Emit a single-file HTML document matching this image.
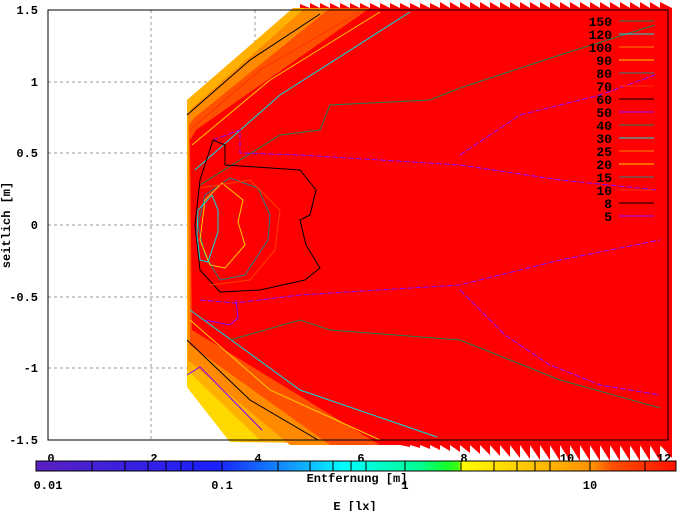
<!DOCTYPE html>
<html><head><meta charset="utf-8"><style>
body{margin:0;background:#fff;}
svg{display:block;font-family:"Liberation Mono",monospace;}
</style></head><body>
<svg width="677" height="511" viewBox="0 0 677 511" xmlns="http://www.w3.org/2000/svg">
<defs>
<linearGradient id="cb" x1="0" x2="1" y1="0" y2="0">
<stop offset="0" stop-color="#5a20c0"/>
<stop offset="0.28" stop-color="#1a20ff"/>
<stop offset="0.42" stop-color="#10b0ff"/>
<stop offset="0.48" stop-color="#00ffff"/>
<stop offset="0.6" stop-color="#00ff90"/>
<stop offset="0.64" stop-color="#10ff30"/>
<stop offset="0.66" stop-color="#40ff10"/>
<stop offset="0.665" stop-color="#ffff00"/>
<stop offset="0.78" stop-color="#ffc000"/>
<stop offset="0.87" stop-color="#ff9000"/>
<stop offset="0.9" stop-color="#ff5000"/>
<stop offset="1" stop-color="#ff1000"/>
</linearGradient>
</defs>
<g stroke="#999" stroke-dasharray="3,3" stroke-width="1">
<line x1="151" y1="10" x2="151" y2="440"/><line x1="255" y1="10" x2="255" y2="440"/>
<line x1="358" y1="10" x2="358" y2="440"/><line x1="461" y1="10" x2="461" y2="440"/>
<line x1="564" y1="10" x2="564" y2="440"/>
<line x1="48" y1="82" x2="668" y2="82"/><line x1="48" y1="153" x2="668" y2="153"/>
<line x1="48" y1="225" x2="668" y2="225"/><line x1="48" y1="297" x2="668" y2="297"/>
<line x1="48" y1="368" x2="668" y2="368"/>
</g>
<polygon points="187,100 293,8 672,8 672,447 230,442 187,387" fill="#ffb000"/>
<polygon points="230,442 187,387 187,370 260,440" fill="#ffd800"/>
<polygon points="192,108 305,8 672,8 672,445 290,445 188,360 188,115" fill="#ff8a00"/>
<polygon points="194,118 330,8 672,8 672,445 330,445 190,345 189,125" fill="#ff5000"/>
<polygon points="196,130 370,8 672,8 672,445 380,445 192,330 190,140" fill="#ff0000"/>
<g fill="#ff0000">
<path d="M300,8 L300,4 L310,8 L310,3 L320,8 L320,3 L330,8 L330,3 L340,8 L340,3 L350,8 L350,3 L360,8 L360,3 L370,8 L370,3 L380,8 L380,3 L390,8 L390,3 L400,8 L400,3 L410,8 L410,3 L420,8 L420,3 L430,8 L430,3 L440,8 L440,2 L450,8 L450,2 L460,8 L460,2 L470,8 L470,2 L480,8 L480,2 L490,8 L490,2 L500,8 L500,2 L510,8 L510,2 L520,8 L520,2 L530,8 L530,2 L540,8 L540,2 L550,8 L550,2 L560,8 L560,2 L570,8 L570,2 L580,8 L580,2 L590,8 L590,2 L600,8 L600,2 L610,8 L610,2 L620,8 L620,2 L630,8 L630,2 L640,8 L640,2 L650,8 L650,2 L660,8 L660,2 L672,8 Z"/>
<path d="M400,445 L410,447 L410,445 L420,448 L420,445 L430,449 L430,445 L440,450 L440,445 L450,451 L450,445 L460,452 L460,445 L470,453 L470,445 L480,454 L480,445 L490,455 L490,445 L500,456 L500,445 L510,457 L510,445 L520,458 L520,445 L530,459 L530,445 L540,460 L540,445 L550,460 L550,445 L560,461 L560,445 L570,461 L570,445 L580,461 L580,445 L590,461 L590,445 L600,461 L600,445 L610,461 L610,445 L620,461 L620,445 L630,461 L630,445 L640,461 L640,445 L650,461 L650,445 L660,461 L660,445 L672,458 L672,445 Z"/>
</g>
<g fill="none" stroke-width="1">
<polyline points="187,115 250,60 320,14" stroke="#000"/>
<polyline points="190,130 260,70 360,12" stroke="#ff3000"/>
<polyline points="192,145 270,80 380,12" stroke="#ffcc00"/>
<polyline points="195,170 280,95 410,12" stroke="#00e0e0"/>
<polyline points="187,340 250,400 318,440" stroke="#000"/>
<polyline points="190,320 270,390 380,440" stroke="#ffcc00"/>
<polyline points="190,310 300,390 437,437" stroke="#00e0e0"/>
<polyline points="187,375 200,367 262,430" stroke="#8000ff"/>
<polyline points="200,185 280,135 320,130 330,105 430,100 460,88 560,55 655,25" stroke="#208050"/>
<polyline points="230,340 300,320 330,330 460,340 560,380 660,408" stroke="#208050"/>
<polyline points="213,140 240,130 240,153 300,155 460,165 560,180 658,190" stroke="#8000ff" stroke-dasharray="6,2"/>
<polyline points="200,300 235,303 300,295 460,285 560,260 660,240" stroke="#8000ff" stroke-dasharray="6,2"/>
<polyline points="205,320 230,325 238,318 236,300" stroke="#8000ff"/>
<polyline points="460,155 520,115 600,95 655,75" stroke="#8000ff" stroke-dasharray="6,2"/>
<polyline points="460,290 505,335 550,365 600,385 660,395" stroke="#8000ff" stroke-dasharray="6,2"/>
<polyline points="213,140 225,145 225,165 300,170 316,190 310,215 300,220 306,245 320,268 305,280 260,290 220,292 200,270 195,225 200,180 213,140" stroke="#000"/>
<polyline points="205,195 230,178 258,188 270,215 268,240 245,275 220,280 205,255 198,225 205,195" stroke="#208080"/>
<polyline points="205,200 222,183 243,200 238,222 245,245 225,268 210,265 200,240 205,200" stroke="#ffcc00"/>
<polyline points="198,210 212,195 218,210 218,232 208,262 200,260 197,235 198,210" stroke="#00e0e0"/>
<polyline points="200,188 250,180 280,210 275,250 250,280 210,285" stroke="#ff4000"/>
</g>
<rect x="48" y="10" width="620" height="430" fill="none" stroke="#000"/>
<g font-size="13" font-weight="bold" text-anchor="end" fill="#000">
<text x="612" y="26">150</text><text x="612" y="39">120</text><text x="612" y="52">100</text>
<text x="612" y="65">90</text><text x="612" y="78">80</text><text x="612" y="91">70</text>
<text x="612" y="104">60</text><text x="612" y="117">50</text><text x="612" y="130">40</text>
<text x="612" y="143">30</text><text x="612" y="156">25</text><text x="612" y="169">20</text>
<text x="612" y="182">15</text><text x="612" y="195">10</text><text x="612" y="208">8</text>
<text x="612" y="221">5</text>
</g>
<g stroke-width="1">
<line x1="619" y1="21" x2="654" y2="21" stroke="#208050"/>
<line x1="619" y1="34" x2="654" y2="34" stroke="#00e0e0"/>
<line x1="619" y1="47" x2="654" y2="47" stroke="#ff8000"/>
<line x1="619" y1="60" x2="654" y2="60" stroke="#ffcc00"/>
<line x1="619" y1="73" x2="654" y2="73" stroke="#208080"/>
<line x1="619" y1="86" x2="654" y2="86" stroke="#ff3000"/>
<line x1="619" y1="99" x2="654" y2="99" stroke="#000"/>
<line x1="619" y1="112" x2="654" y2="112" stroke="#8000ff"/>
<line x1="619" y1="125" x2="654" y2="125" stroke="#208050"/>
<line x1="619" y1="138" x2="654" y2="138" stroke="#00e0e0"/>
<line x1="619" y1="151" x2="654" y2="151" stroke="#ff8000"/>
<line x1="619" y1="164" x2="654" y2="164" stroke="#ffcc00"/>
<line x1="619" y1="177" x2="654" y2="177" stroke="#208080"/>
<line x1="619" y1="190" x2="654" y2="190" stroke="#ff3000"/>
<line x1="619" y1="203" x2="654" y2="203" stroke="#000"/>
<line x1="619" y1="216" x2="654" y2="216" stroke="#8000ff"/>
</g>
<g font-size="12" font-weight="bold" text-anchor="end">
<text x="38" y="14">1.5</text><text x="38" y="86">1</text><text x="38" y="157">0.5</text>
<text x="38" y="229">0</text><text x="38" y="301">-0.5</text><text x="38" y="372">-1</text>
<text x="38" y="444">-1.5</text>
</g>
<text transform="translate(10,225) rotate(-90)" font-size="12" font-weight="bold" text-anchor="middle">seitlich [m]</text>
<g font-size="12" font-weight="bold" text-anchor="middle">
<text x="51" y="462">0</text><text x="154" y="462">2</text><text x="258" y="462">4</text>
<text x="361" y="462">6</text><text x="464" y="462">8</text><text x="567" y="462">10</text>
<text x="664" y="462">12</text>
</g>
<rect x="36" y="461" width="640" height="10" fill="url(#cb)" stroke="#000"/>
<g stroke="#000">
<line x1="92" y1="461" x2="92" y2="471"/><line x1="125" y1="461" x2="125" y2="471"/>
<line x1="148" y1="461" x2="148" y2="471"/><line x1="166" y1="461" x2="166" y2="471"/>
<line x1="181" y1="461" x2="181" y2="471"/><line x1="193" y1="461" x2="193" y2="471"/>
<line x1="222" y1="461" x2="222" y2="471"/><line x1="278" y1="461" x2="278" y2="471"/>
<line x1="310" y1="461" x2="310" y2="471"/><line x1="333" y1="461" x2="333" y2="471"/>
<line x1="351" y1="461" x2="351" y2="471"/><line x1="366" y1="461" x2="366" y2="471"/>
<line x1="405" y1="461" x2="405" y2="471"/><line x1="461" y1="461" x2="461" y2="471"/>
<line x1="494" y1="461" x2="494" y2="471"/><line x1="517" y1="461" x2="517" y2="471"/>
<line x1="535" y1="461" x2="535" y2="471"/><line x1="550" y1="461" x2="550" y2="471"/>
<line x1="590" y1="461" x2="590" y2="471"/><line x1="645" y1="461" x2="645" y2="471"/>
</g>
<g font-size="12" font-weight="bold" text-anchor="middle">
<text x="48" y="489">0.01</text><text x="222" y="489">0.1</text><text x="405" y="489">1</text>
<text x="590" y="489">10</text>
<text x="357" y="482">Entfernung [m]</text>
<text x="355" y="510">E [lx]</text>
</g>
</svg>
</body></html>
